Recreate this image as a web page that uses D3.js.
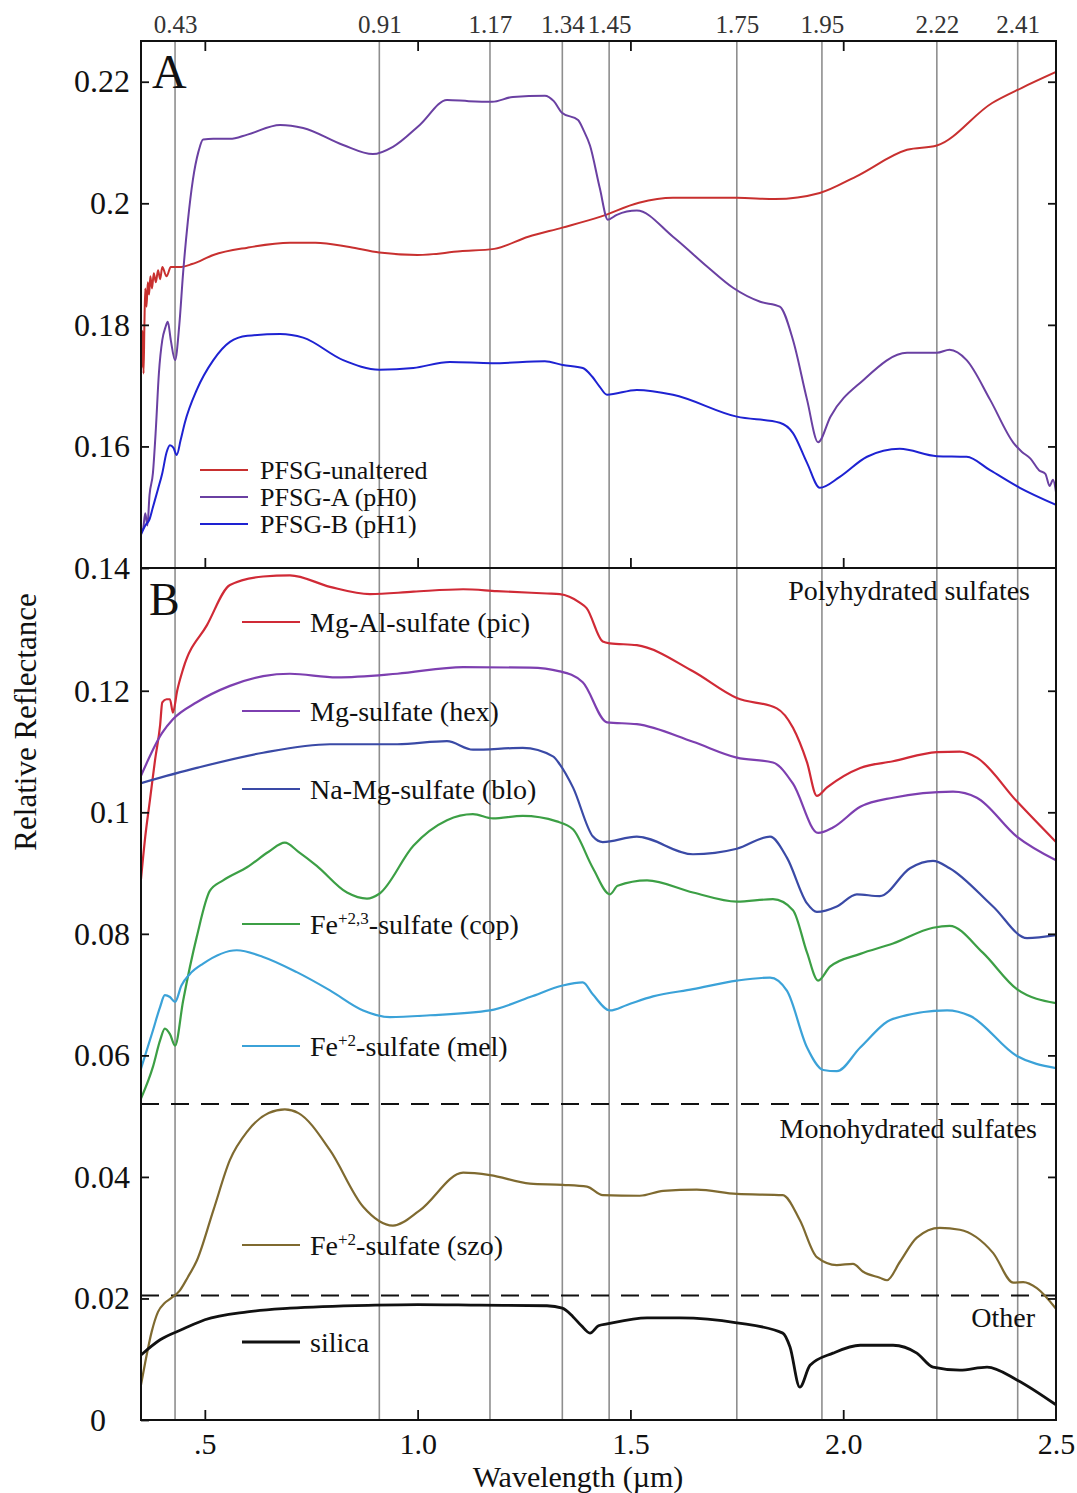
<!DOCTYPE html>
<html>
<head>
<meta charset="utf-8">
<script src="https://cdn.jsdelivr.net/npm/d3@7"></script>
<style>
  body { margin: 0; background: #fff; }
  svg text { font-family: "Liberation Serif", "Times New Roman", serif; fill: #111; }
</style>
</head>
<body>
<svg id="drawing_region"></svg>
<script>
// absorption features marked along the top (um)
const bands = [0.43, 0.91, 1.17, 1.34, 1.45, 1.75, 1.95, 2.22, 2.41];
const xTicks = [0.5, 1.0, 1.5, 2.0, 2.5];
const yTicksA = [0.14, 0.16, 0.18, 0.2, 0.22];
const yTicksB = [0, 0.02, 0.04, 0.06, 0.08, 0.1, 0.12];
// dashed separators between sulfate groups (panel B)
const groupLines = [0.052, 0.0205];
const groupNames = ["Polyhydrated sulfates", "Monohydrated sulfates", "Other"];

// panel A, [wavelength, reflectance]
const pfsgUnaltered = [[0.350,0.181],[0.352,0.173],[0.354,0.179],[0.356,0.172],[0.358,0.180],[0.360,0.186],[0.363,0.183],[0.366,0.187],[0.369,0.185],[0.372,0.188],[0.376,0.186],[0.380,0.1885],[0.385,0.187],[0.390,0.189],[0.395,0.1875],[0.400,0.1895],[0.410,0.188],[0.420,0.1895],[0.440,0.1895],[0.470,0.190],[0.520,0.1915],[0.600,0.1927],[0.700,0.1935],[0.760,0.1935],[0.840,0.1928],[0.910,0.1919],[1.000,0.1915],[1.100,0.1921],[1.180,0.1925],[1.260,0.1945],[1.340,0.196],[1.430,0.1978],[1.520,0.2001],[1.600,0.2009],[1.750,0.2009],[1.840,0.2007],[1.945,0.2017],[2.030,0.2044],[2.150,0.2088],[2.220,0.2095],[2.350,0.2165],[2.420,0.219],[2.500,0.2216]];
const pfsgA = [[0.350,0.146],[0.355,0.1465],[0.360,0.149],[0.365,0.147],[0.370,0.152],[0.378,0.1556],[0.385,0.163],[0.392,0.172],[0.400,0.1775],[0.407,0.1795],[0.413,0.1805],[0.420,0.1775],[0.430,0.1742],[0.440,0.180],[0.449,0.1886],[0.460,0.197],[0.472,0.2039],[0.485,0.2085],[0.496,0.2105],[0.520,0.2106],[0.559,0.2106],[0.600,0.2113],[0.677,0.2129],[0.731,0.2124],[0.825,0.2096],[0.895,0.2081],[0.942,0.2093],[1.005,0.2129],[1.069,0.217],[1.120,0.2168],[1.175,0.2167],[1.224,0.2175],[1.299,0.2177],[1.320,0.2168],[1.339,0.2149],[1.377,0.2137],[1.390,0.212],[1.405,0.2095],[1.428,0.2025],[1.447,0.1973],[1.468,0.1981],[1.515,0.1988],[1.600,0.1945],[1.680,0.1896],[1.741,0.1861],[1.805,0.1838],[1.851,0.183],[1.882,0.1775],[1.915,0.1677],[1.941,0.1607],[1.970,0.1649],[2.047,0.1709],[2.150,0.1754],[2.220,0.1754],[2.250,0.1759],[2.290,0.1742],[2.345,0.1677],[2.400,0.1606],[2.420,0.1591],[2.440,0.158],[2.460,0.1561],[2.475,0.1555],[2.485,0.1535],[2.493,0.1545],[2.500,0.1525]];
const pfsgB = [[0.350,0.1455],[0.360,0.147],[0.370,0.148],[0.378,0.150],[0.390,0.153],[0.400,0.1556],[0.410,0.159],[0.418,0.1602],[0.426,0.1598],[0.434,0.1586],[0.443,0.161],[0.453,0.1639],[0.481,0.1693],[0.520,0.1742],[0.559,0.1772],[0.600,0.1782],[0.677,0.1785],[0.731,0.1779],[0.825,0.1742],[0.910,0.1726],[0.990,0.1729],[1.076,0.1739],[1.175,0.1737],[1.299,0.174],[1.341,0.1734],[1.388,0.1729],[1.410,0.1715],[1.428,0.1698],[1.445,0.1685],[1.515,0.1693],[1.600,0.1685],[1.750,0.1649],[1.851,0.1639],[1.882,0.1622],[1.915,0.1573],[1.945,0.1532],[1.992,0.155],[2.056,0.1583],[2.133,0.1596],[2.220,0.1584],[2.290,0.1583],[2.345,0.1561],[2.415,0.1532],[2.500,0.1504]];

// panel B, [wavelength, reflectance]
const pic = [[0.350,0.089],[0.360,0.096],[0.371,0.102],[0.383,0.1086],[0.395,0.1144],[0.400,0.1181],[0.410,0.1186],[0.418,0.1186],[0.425,0.1164],[0.435,0.120],[0.449,0.1236],[0.505,0.1308],[0.559,0.1374],[0.637,0.1388],[0.700,0.139],[0.794,0.1371],[0.888,0.1359],[0.990,0.1363],[1.107,0.1367],[1.186,0.1364],[1.304,0.136],[1.334,0.1359],[1.381,0.1345],[1.397,0.1336],[1.435,0.1281],[1.452,0.1278],[1.515,0.1275],[1.647,0.1232],[1.750,0.1188],[1.844,0.1171],[1.882,0.1139],[1.915,0.1082],[1.938,0.1027],[1.962,0.1041],[2.040,0.1073],[2.117,0.1084],[2.220,0.1099],[2.274,0.110],[2.314,0.109],[2.408,0.1018],[2.500,0.0951]];
const hex = [[0.350,0.106],[0.400,0.1131],[0.425,0.1153],[0.481,0.1181],[0.559,0.1208],[0.637,0.1224],[0.700,0.1228],[0.810,0.1222],[0.952,0.1228],[1.107,0.1239],[1.264,0.1238],[1.334,0.1232],[1.388,0.1214],[1.445,0.1148],[1.515,0.1145],[1.647,0.1116],[1.750,0.109],[1.835,0.1082],[1.882,0.1047],[1.941,0.0966],[1.976,0.0975],[2.040,0.1009],[2.117,0.1024],[2.258,0.1034],[2.314,0.1024],[2.408,0.096],[2.500,0.0921]];
const blo = [[0.350,0.1048],[0.481,0.1073],[0.637,0.1098],[0.794,0.1112],[0.952,0.1112],[1.069,0.1117],[1.130,0.1103],[1.247,0.1106],[1.318,0.1092],[1.334,0.1079],[1.365,0.1041],[1.412,0.096],[1.435,0.0951],[1.515,0.096],[1.647,0.0931],[1.750,0.094],[1.828,0.096],[1.868,0.0925],[1.915,0.085],[1.938,0.0836],[1.985,0.0845],[2.032,0.0865],[2.086,0.0862],[2.157,0.0908],[2.211,0.092],[2.250,0.0908],[2.352,0.0845],[2.432,0.0793],[2.500,0.0798]];
const cop = [[0.350,0.0529],[0.378,0.0581],[0.395,0.0625],[0.406,0.0644],[0.418,0.0635],[0.430,0.0616],[0.449,0.069],[0.481,0.0795],[0.512,0.0871],[0.543,0.0888],[0.600,0.091],[0.650,0.0935],[0.688,0.095],[0.720,0.0935],[0.763,0.0912],[0.834,0.0868],[0.881,0.0858],[0.910,0.0866],[0.990,0.0945],[1.069,0.0987],[1.130,0.0997],[1.177,0.099],[1.247,0.0994],[1.327,0.0985],[1.365,0.0972],[1.412,0.0908],[1.452,0.0865],[1.470,0.0879],[1.539,0.0888],[1.647,0.0868],[1.750,0.0853],[1.835,0.0857],[1.882,0.0839],[1.915,0.0769],[1.941,0.0723],[1.969,0.0746],[2.040,0.0767],[2.117,0.0784],[2.211,0.081],[2.250,0.0813],[2.328,0.0769],[2.408,0.0709],[2.500,0.0686]];
const mel = [[0.350,0.0578],[0.378,0.0641],[0.395,0.068],[0.406,0.0699],[0.418,0.0696],[0.430,0.0688],[0.445,0.0715],[0.465,0.0734],[0.496,0.0751],[0.575,0.0773],[0.637,0.0762],[0.716,0.0737],[0.794,0.0707],[0.872,0.0674],[0.935,0.0663],[1.029,0.0666],[1.170,0.0674],[1.264,0.0696],[1.341,0.0715],[1.388,0.072],[1.412,0.070],[1.452,0.0674],[1.492,0.0683],[1.553,0.0697],[1.647,0.0709],[1.750,0.0723],[1.828,0.0728],[1.868,0.0706],[1.915,0.0613],[1.953,0.0576],[1.985,0.0574],[2.040,0.0613],[2.117,0.066],[2.244,0.0674],[2.298,0.0665],[2.408,0.0599],[2.500,0.0579]];
const szo = [[0.350,0.0058],[0.360,0.0095],[0.375,0.0145],[0.390,0.0178],[0.405,0.0192],[0.420,0.020],[0.440,0.0212],[0.460,0.0235],[0.481,0.0262],[0.520,0.0345],[0.559,0.0428],[0.600,0.0475],[0.650,0.0505],[0.688,0.0511],[0.720,0.0505],[0.794,0.0444],[0.872,0.0351],[0.942,0.032],[1.005,0.0345],[1.107,0.0407],[1.170,0.0403],[1.264,0.0389],[1.341,0.0387],[1.398,0.0384],[1.435,0.037],[1.522,0.0369],[1.577,0.0377],[1.656,0.0379],[1.750,0.0372],[1.858,0.037],[1.898,0.0329],[1.938,0.0268],[1.985,0.0255],[2.023,0.0257],[2.047,0.0244],[2.086,0.0234],[2.103,0.023],[2.133,0.026],[2.173,0.030],[2.227,0.0316],[2.274,0.0313],[2.352,0.0275],[2.400,0.0226],[2.423,0.0227],[2.455,0.0217],[2.500,0.0183]];
const silica = [[0.350,0.0107],[0.395,0.0132],[0.450,0.015],[0.500,0.0165],[0.600,0.0178],[0.700,0.0184],[0.900,0.0189],[1.000,0.019],[1.146,0.0189],[1.304,0.0188],[1.340,0.0184],[1.365,0.017],[1.385,0.0155],[1.405,0.0143],[1.425,0.0155],[1.445,0.0158],[1.539,0.0168],[1.616,0.0168],[1.750,0.016],[1.858,0.0143],[1.875,0.012],[1.898,0.0054],[1.922,0.009],[1.976,0.011],[2.040,0.0123],[2.117,0.0123],[2.173,0.011],[2.211,0.0087],[2.274,0.0082],[2.338,0.0087],[2.408,0.0066],[2.500,0.0025]];

const seriesA = [
    { name: "PFSG-unaltered", color: "#c8302f", data: pfsgUnaltered },
    { name: "PFSG-A (pH0)",   color: "#6a40a2", data: pfsgA },
    { name: "PFSG-B (pH1)",   color: "#1e22d2", data: pfsgB }
];
// sup = superscript charge, split around it
const seriesB = [
    { pre: "Mg-Al-sulfate (pic)",   sup: "", post: "", color: "#d02a36", data: pic },
    { pre: "Mg-sulfate (hex)",      sup: "", post: "", color: "#7d3fb0", data: hex },
    { pre: "Na-Mg-sulfate (blo)",   sup: "", post: "", color: "#3a4aa6", data: blo },
    { pre: "Fe", sup: "+2,3", post: "-sulfate (cop)", color: "#3c9f45", data: cop },
    { pre: "Fe", sup: "+2",   post: "-sulfate (mel)", color: "#3ba2d8", data: mel },
    { pre: "Fe", sup: "+2",   post: "-sulfate (szo)", color: "#7f6a30", data: szo },
    { pre: "silica",            sup: "", post: "", color: "#111111", data: silica }
];

class SpectraPlot {

    constructor( config ) {
        this.config = {
            parent: config.parent,
            width: config.width || 1077,
            height: config.height || 1493,
            margin: config.margin || {top:40, right:20, bottom:70, left:140},
            split: config.split
        }
        this.init();
    }

    init() {
        let self = this;

        self.svg = d3.select( self.config.parent )
            .attr('width', self.config.width)
            .attr('height', self.config.height);

        self.chart = self.svg.append('g')
            .attr('transform', `translate(${self.config.margin.left}, ${self.config.margin.top})`);

        self.inner_width = self.config.width - self.config.margin.left - self.config.margin.right;
        self.inner_height = self.config.height - self.config.margin.top - self.config.margin.bottom;
        const s = self.config.split;

        self.xscale = d3.scaleLinear().domain([0.35, 2.5]).range([0, self.inner_width]);
        self.yscaleA = d3.scaleLinear().domain([0.14, 0.2267]).range([s, 0]);
        self.yscaleB = d3.scaleLinear().domain([0, 0.1402]).range([self.inner_height, s]);

        const defs = self.svg.append('defs');
        defs.append('clipPath').attr('id', 'clipA')
            .append('rect').attr('width', self.inner_width).attr('height', s);
        defs.append('clipPath').attr('id', 'clipB')
            .append('rect').attr('y', s).attr('width', self.inner_width).attr('height', self.inner_height - s);
    }

    update() {
        let self = this;
        self.render();
    }

    axisStyle( g, size ) {
        g.attr('font-family', null).attr('font-size', size);
        g.select('.domain').remove();
        g.selectAll('.tick line').attr('stroke', '#111').attr('stroke-width', 1.8);
    }

    render() {
        let self = this;
        const W = self.inner_width, H = self.inner_height, s = self.config.split;
        const x = self.xscale, yA = self.yscaleA, yB = self.yscaleB;

        // feature lines through both panels
        self.chart.selectAll('.band')
            .data(bands)
            .join('line')
            .attr('class', 'band')
            .attr('x1', d => x(d)).attr('x2', d => x(d))
            .attr('y1', 0).attr('y2', H)
            .attr('stroke', '#8e8e8e')
            .attr('stroke-width', 1.6);

        self.chart.append('g')
            .call(d3.axisTop(x).tickValues(bands).tickSize(0).tickPadding(8).tickFormat(d3.format('.2f')))
            .call(g => self.axisStyle(g, 25))
            .selectAll('text').style('fill', '#333');

        // dashed group separators
        self.chart.selectAll('.sep')
            .data(groupLines)
            .join('line')
            .attr('class', 'sep')
            .attr('x1', 0).attr('x2', W)
            .attr('y1', d => yB(d)).attr('y2', d => yB(d))
            .attr('stroke', '#111')
            .attr('stroke-width', 2)
            .attr('stroke-dasharray', '18,12');

        const lineA = d3.line().x(d => x(d[0])).y(d => yA(d[1])).curve(d3.curveMonotoneX);
        const lineB = d3.line().x(d => x(d[0])).y(d => yB(d[1])).curve(d3.curveMonotoneX);

        self.chart.append('g').attr('clip-path', 'url(#clipA)')
            .selectAll('path')
            .data(seriesA)
            .join('path')
            .attr('d', d => lineA(d.data))
            .attr('fill', 'none')
            .attr('stroke', d => d.color)
            .attr('stroke-width', 2);

        self.chart.append('g').attr('clip-path', 'url(#clipB)')
            .selectAll('path')
            .data(seriesB)
            .join('path')
            .attr('d', d => lineB(d.data))
            .attr('fill', 'none')
            .attr('stroke', d => d.color)
            .attr('stroke-width', (d, i) => i === 6 ? 2.8 : 2.2);

        // axes
        const fmtY = d => d === 0 ? '0' : String(+d.toFixed(2));
        self.chart.append('g')
            .call(d3.axisLeft(yA).tickValues(yTicksA).tickSize(-8).tickPadding(11).tickFormat(fmtY))
            .call(g => self.axisStyle(g, 32));
        self.chart.append('g')
            .call(d3.axisLeft(yB).tickValues(yTicksB).tickSize(-8).tickPadding(11).tickFormat(fmtY))
            .call(g => self.axisStyle(g, 32))
            .selectAll('.tick text').filter(d => d === 0).attr('dx', -24);
        self.chart.append('g').attr('transform', `translate(${W},0)`)
            .call(d3.axisRight(yA).tickValues(yTicksA.slice(1)).tickSize(-8).tickFormat(''))
            .call(g => self.axisStyle(g, 10));
        self.chart.append('g').attr('transform', `translate(${W},0)`)
            .call(d3.axisRight(yB).tickValues(yTicksB.slice(1)).tickSize(-8).tickFormat(''))
            .call(g => self.axisStyle(g, 10));

        const inner = xTicks.slice(0, 4);
        self.chart.append('g')
            .call(d3.axisTop(x).tickValues(inner).tickSize(-10).tickFormat(''))
            .call(g => self.axisStyle(g, 10));
        self.chart.append('g').attr('transform', `translate(0,${s})`)
            .call(d3.axisBottom(x).tickValues(inner).tickSize(-10).tickFormat(''))
            .call(g => self.axisStyle(g, 10));
        self.chart.append('g').attr('transform', `translate(0,${H})`)
            .call(d3.axisBottom(x).tickValues(xTicks).tickSize(-10).tickPadding(13)
                .tickFormat(d => d === 0.5 ? '.5' : d.toFixed(1)))
            .call(g => self.axisStyle(g, 30))
            .selectAll('.tick line').filter(d => d === 2.5).remove();

        // panel frames
        self.chart.append('rect')
            .attr('width', W).attr('height', s)
            .attr('fill', 'none').attr('stroke', '#111').attr('stroke-width', 2);
        self.chart.append('rect')
            .attr('y', s).attr('width', W).attr('height', H - s)
            .attr('fill', 'none').attr('stroke', '#111').attr('stroke-width', 2);

        // panel letters
        self.chart.append('text').attr('x', 11).attr('y', 47).attr('font-size', 48).text('A');
        self.chart.append('text').attr('x', 8).attr('y', 574).attr('font-size', 46).text('B');

        // legend A
        const legA = self.chart.append('g').selectAll('g')
            .data(seriesA).join('g')
            .attr('transform', (d, i) => `translate(59, ${429 + i * 27})`);
        legA.append('line').attr('x2', 48).attr('stroke', d => d.color).attr('stroke-width', 2);
        legA.append('text').attr('x', 60).attr('dy', '0.33em').attr('font-size', 26).text(d => d.name);

        // legend B
        const legY = [581, 670, 748, 883, 1005, 1204, 1301];
        const legB = self.chart.append('g').selectAll('g')
            .data(seriesB).join('g')
            .attr('transform', (d, i) => `translate(101, ${legY[i]})`);
        legB.append('line').attr('x2', 58).attr('stroke', d => d.color)
            .attr('stroke-width', (d, i) => i === 6 ? 3 : 2.2);
        const lt = legB.append('text').attr('x', 68).attr('dy', '0.35em').attr('font-size', 28);
        lt.append('tspan').text(d => d.pre);
        lt.filter(d => d.sup).append('tspan').attr('dy', -10).attr('font-size', 17).text(d => d.sup);
        lt.filter(d => d.sup).append('tspan').attr('dy', 10).text(d => d.post);

        // group names
        const gy = [559, 1097, 1286], gx = [889, 896, 894];
        self.chart.selectAll('.grp')
            .data(groupNames)
            .join('text')
            .attr('class', 'grp')
            .attr('x', (d, i) => gx[i]).attr('y', (d, i) => gy[i])
            .attr('text-anchor', 'end')
            .attr('font-size', 28)
            .text(d => d);

        // axis titles
        self.chart.append('text')
            .attr('transform', `translate(-105, 681) rotate(-90)`)
            .attr('text-anchor', 'middle')
            .attr('font-size', 31)
            .text('Relative Reflectance');
        self.chart.append('text')
            .attr('x', 437).attr('y', 1446)
            .attr('text-anchor', 'middle')
            .attr('font-size', 30)
            .text('Wavelength (µm)');
    }
}

const plot = new SpectraPlot({
    parent: "#drawing_region",
    width: 1077,
    height: 1493,
    margin: {top:41, right:21, bottom:73, left:141},
    split: 527
});
plot.update();
</script>
</body>
</html>
